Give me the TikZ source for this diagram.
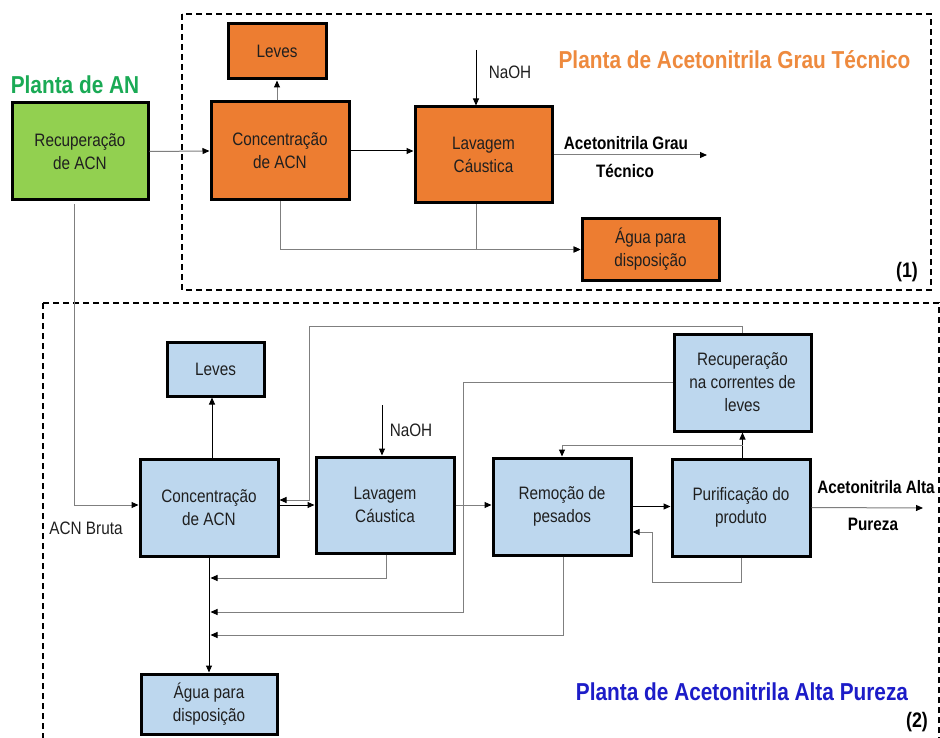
\documentclass[tikz,border=0pt]{standalone}
\usepackage{fontspec}
\setmainfont{Liberation Sans}[FakeStretch=0.85]
\usetikzlibrary{arrows.meta}
\definecolor{obox}{HTML}{ED7D31}
\definecolor{gbox}{HTML}{92D050}
\definecolor{bbox}{HTML}{BDD7EE}
\definecolor{gtitle}{HTML}{1AAA55}
\definecolor{otitle}{HTML}{EE8A3E}
\definecolor{btitle}{HTML}{1C1CC8}
\definecolor{lgray}{HTML}{7F7F7F}
\begin{document}
\begin{tikzpicture}[x=1pt,y=-1pt,
  box/.style={draw=black, line width=3pt, align=center, text=black!88, inner sep=0pt,
    font=\fontsize{18}{23}\selectfont},
  orbox/.style={box, fill=obox},
  grbox/.style={box, fill=gbox},
  blbox/.style={box, fill=bbox},
  conn/.style={draw=lgray, line width=1pt, -{Triangle[length=7pt,width=6pt,color=black]}},
  connk/.style={draw=black, line width=1pt, -{Triangle[length=7pt,width=6pt,color=black]}},
  plain/.style={draw=lgray, line width=1pt},
  zone/.style={draw=black, line width=1.3pt, dash pattern=on 6pt off 4pt},
  title/.style={font=\fontsize{24.5}{28}\selectfont\bfseries},
  blabel/.style={font=\fontsize{18}{22}\selectfont\bfseries, text=black},
  nlabel/.style={font=\fontsize{18}{22}\selectfont, text=black!88}
]
\useasboundingbox (0,0) rectangle (940,738);
\fill[white] (0,0) rectangle (940,738);

% zones
\draw[zone] (182,14) rectangle (931,290);
\draw[zone] (43,303) rectangle (939,750);

% titles
\node[title, text=gtitle] (tAN) at (75,85) {Planta de AN};
\node[title, text=otitle] (tGT) at (734.5,60) {Planta de Acetonitrila Grau Técnico};
\node[title, text=btitle] (tAP) at (742,692) {Planta de Acetonitrila Alta Pureza};
\node[font=\fontsize{21}{24}\selectfont\bfseries] (n1) at (907,272) {(1)};
\node[font=\fontsize{21}{24}\selectfont\bfseries] (n2) at (917,722) {(2)};

% top boxes
\node[grbox, minimum width=136, minimum height=97] (rec1) at (80,151.5) {Recuperação\\de ACN};
\node[orbox, minimum width=98, minimum height=55] (leves1) at (277,51.5) {Leves};
\node[orbox, minimum width=138, minimum height=98] (conc1) at (280,151) {Concentração\\de ACN};
\node[orbox, minimum width=137, minimum height=96] (lav1) at (483.5,155) {Lavagem\\Cáustica};
\node[orbox, minimum width=137, minimum height=61] (agua1) at (650.5,249.5) {Água para\\disposição};

% bottom boxes
\node[blbox, minimum width=97, minimum height=54] (leves2) at (215.5,369) {Leves};
\node[blbox, minimum width=138, minimum height=97] (conc2) at (209,507.5) {Concentração\\de ACN};
\node[blbox, minimum width=138, minimum height=96] (lav2) at (385,505) {Lavagem\\Cáustica};
\node[blbox, minimum width=136, minimum height=60] (agua2) at (209,704) {Água para\\disposição};
\node[blbox, minimum width=138, minimum height=97] (rem) at (562,506.5) {Remoção de\\pesados};
\node[blbox, minimum width=138, minimum height=97] (pur) at (741,507.5) {Purificação do\\produto};
\node[blbox, minimum width=137, minimum height=97] (recl) at (742.5,382.5) {Recuperação\\na correntes de\\leves};

% labels
\node[nlabel] (naoh1t) at (510,72) {NaOH};
\node[nlabel] (naoh2t) at (411,430) {NaOH};
\node[nlabel] (acnb) at (86,528) {ACN Bruta};
\node[blabel] (outGT1) at (626,143) {Acetonitrila Grau};
\node[blabel] (outGT2) at (625,171) {Técnico};
\node[blabel] (outAP1) at (876,487) {Acetonitrila Alta};
\node[blabel] (outAP2) at (873,524) {Pureza};

% coordinates
\coordinate (naoh1) at (476,50);
\coordinate (naoh2) at (382,405);
\coordinate (out1) at (707,155);
\coordinate (out2) at (923,508);
\coordinate (j1) at (210.5,578);
\coordinate (j2) at (210.5,612);
\coordinate (j3) at (210.5,635);
\coordinate (j4) at (742.5,445);

% top connectors
\draw[conn] (rec1.east) -- (conc1.west);
\draw[connk] (conc1.east) -- (conc1.east -| lav1.west);
\draw[conn] (leves1.south |- conc1.north) -- (leves1.south);
\draw[connk] (naoh1) -- (naoh1 |- lav1.north);
\draw[conn] (lav1.east) -- (out1);
\draw[conn] (conc1.south) |- (agua1.west);
\draw[conn] ([xshift=-7.5pt]lav1.south) |- (agua1.west);
\draw[conn] ([xshift=-6pt,yshift=-3pt]rec1.south) |- ([yshift=2.5pt]conc2.west);

% bottom connectors
\draw[connk] ([xshift=3pt]conc2.north) -- ([xshift=3pt]conc2.north |- leves2.south);
\draw[connk] (naoh2) -- (naoh2 |- lav2.north);
\draw[connk] ([yshift=2.5pt]conc2.east) -- ([yshift=2.5pt]conc2.east -| lav2.west);
\draw[conn] (recl.north) |- (309,326) -- (309,500) -- (309,500 -| conc2.east);
\draw[conn] (recl.west) -| (463,612) -- (j2);
\draw[conn] (lav2.east) -- (lav2.east -| rem.west);
\draw[conn] ([xshift=1pt]lav2.south) |- (j1);
\draw[conn] ([xshift=1pt]rem.south) |- (j3);
\draw[connk] (conc2.south) -- (agua2.north);
\draw[connk] (rem.east) -- (rem.east -| pur.west);
\draw[conn] (pur.south) |- (652,582) -- (652,532) -- (652,532 -| rem.east);
\draw[connk] (recl.south |- pur.north) -- (recl.south);
\draw[conn] (j4) -| (rem.north);
\draw[conn] (pur.east) -- (out2);
\end{tikzpicture}
\end{document}
